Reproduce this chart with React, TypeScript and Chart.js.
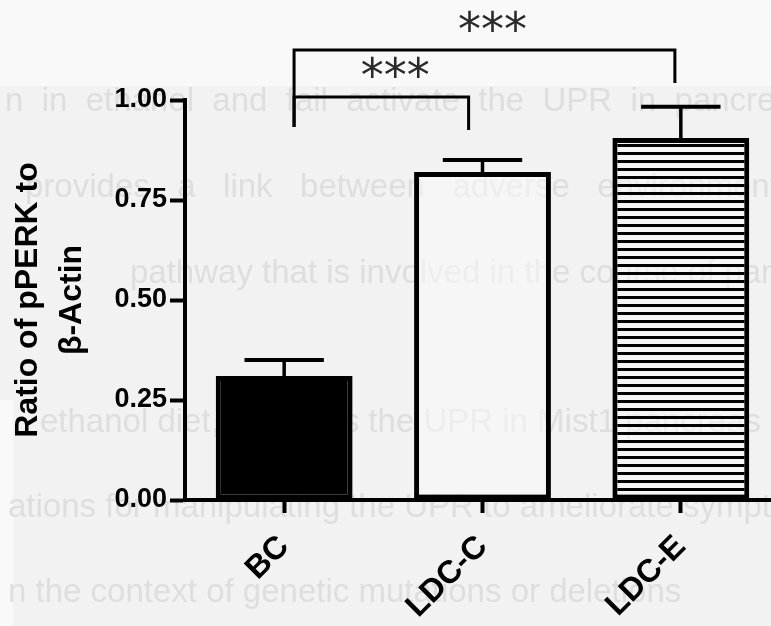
import { useEffect, useRef } from "react";
import { Chart, registerables } from "chart.js";

Chart.register(...registerables);

// ---- data ----
const categories = ["BC", "LDC-C", "LDC-E"];
const means = [0.31, 0.82, 0.905];
const errors = [0.04, 0.03, 0.078];
const yTickValues = [0, 0.25, 0.5, 0.75, 1.0];
const yTitle = ["Ratio of pPERK to", "β-Actin"];

// significance brackets (category index / value units)
const bracketFrom = [0.05, 0.05];
const bracketTo = [0.93, 1.97];
const bracketLevel = [1.0075, 1.125];
const bracketLeftFoot = [0.9325, 0.9325];
const bracketRightFoot = [0.925, 1.0425];
const starLabels = ["***", "***"];
const starX = [0.56, 1.05];
const starY = [1.085, 1.2];

// faint bleed-through text of the scanned page
const pageLines = [
  "n  in  ethanol  and  fail  activate  the  UPR  in  pancreas",
  "provides   a   link   between   adverse   environmental",
  "pathway that is involved in the course of pancreatitis",
  "ethanol diet, activates the UPR in Mist1 pancreas",
  "ations for manipulating the UPR to ameliorate symptoms",
  "n the context of genetic mutations or deletions",
];
const pageLineX = [5, 25, 130, 40, 8, 8];
const pageLineY = [111, 197, 283, 432, 517, 602];

const FONT = "'Liberation Sans', Arial, Helvetica, sans-serif";

export default function App() {
  const ref = useRef<HTMLCanvasElement>(null);

  useEffect(() => {
    document.body.style.margin = "0";
    const canvas = ref.current!;

    const pc = document.createElement("canvas");
    pc.width = 8;
    pc.height = 8;
    const pctx = pc.getContext("2d")!;
    pctx.fillStyle = "rgba(250,250,250,0.55)";
    pctx.fillRect(0, 0, 8, 8);
    pctx.fillStyle = "#000";
    pctx.fillRect(0, 0, 8, 3);
    const stripe = canvas.getContext("2d")!.createPattern(pc, "repeat")!;

    const backgroundPlugin = {
      id: "pageBackground",
      beforeDraw(chart: any) {
        const c = chart.ctx;
        c.save();
        c.fillStyle = "#f2f2f2";
        c.fillRect(0, 0, chart.width, chart.height);
        c.fillStyle = "#f9f9f9";
        c.fillRect(0, 0, chart.width, 86);
        c.fillRect(0, 400, 13, chart.height - 400);
        c.fillStyle = "#dedede";
        c.font = `33px ${FONT}`;
        c.textBaseline = "alphabetic";
        c.textAlign = "left";
        pageLines.forEach((t, i) => c.fillText(t, pageLineX[i], pageLineY[i]));
        c.restore();
      },
    };

    const annotationPlugin = {
      id: "errorsAndBrackets",
      afterDatasetsDraw(chart: any) {
        const c = chart.ctx;
        const xs = chart.scales.x;
        const ys = chart.scales.y;
        const meta = chart.getDatasetMeta(0);
        const catW = xs.width / categories.length;
        const xAt = (idx: number) => xs.getPixelForValue(0) + idx * catW;
        c.save();
        c.strokeStyle = "#000";
        c.lineCap = "butt";
        // error bars
        meta.data.forEach((bar: any, i: number) => {
          const top = ys.getPixelForValue(means[i] + errors[i]);
          const barTop = bar.y;
          const half = bar.width * 0.29;
          c.lineWidth = 3.5;
          c.beginPath();
          c.moveTo(bar.x, barTop);
          c.lineTo(bar.x, top);
          c.stroke();
          c.lineWidth = 4;
          c.beginPath();
          c.moveTo(bar.x - half, top);
          c.lineTo(bar.x + half, top);
          c.stroke();
        });
        // brackets
        c.lineWidth = 3;
        bracketLevel.forEach((lvl, i) => {
          const y = ys.getPixelForValue(lvl);
          const x1 = xAt(bracketFrom[i]);
          const x2 = xAt(bracketTo[i]);
          c.beginPath();
          c.moveTo(x1, ys.getPixelForValue(bracketLeftFoot[i]));
          c.lineTo(x1, y);
          c.lineTo(x2, y);
          c.lineTo(x2, ys.getPixelForValue(bracketRightFoot[i]));
          c.stroke();
        });
        // stars
        c.fillStyle = "#2a2a2a";
        c.font = `46px 'DejaVu Sans', sans-serif`;
        c.textAlign = "center";
        c.textBaseline = "alphabetic";
        starLabels.forEach((s, i) => {
          c.fillText(s, xAt(starX[i]), ys.getPixelForValue(starY[i]) + 25);
        });
        c.restore();
      },
    };

    const chart = new Chart(canvas, {
      type: "bar",
      data: {
        labels: categories,
        datasets: [
          {
            data: means,
            backgroundColor: ["#000000", "rgba(250,250,250,0.55)", stripe as any],
            borderColor: "#000000",
            borderWidth: 5,
            borderSkipped: false,
            barPercentage: 0.69,
            categoryPercentage: 1,
          },
        ],
      },
      options: {
        animation: false,
        responsive: false,
        devicePixelRatio: 1,
        layout: { padding: { top: 100, right: 10, left: 0, bottom: 0 } },
        plugins: {
          legend: { display: false },
          tooltip: { enabled: false },
          title: { display: false },
        },
        scales: {
          x: {
            grid: {
              display: true,
              offset: false,
              drawOnChartArea: false,
              drawTicks: true,
              tickLength: 13,
              tickWidth: 4,
              tickColor: "#000",
            },
            border: { display: true, color: "#000", width: 4, z: 1 },
            ticks: {
              color: "#000",
              font: { family: FONT, size: 32, weight: "bold" },
              minRotation: 45,
              maxRotation: 45,
              padding: 15,
            },
            afterFit: (s: any) => {
              s.height = 126;
            },
          },
          y: {
            min: 0,
            max: 1,
            afterBuildTicks: (s: any) => {
              s.ticks = yTickValues.map((v) => ({ value: v }));
            },
            grid: {
              display: true,
              drawOnChartArea: false,
              drawTicks: true,
              tickLength: 15,
              tickWidth: 4,
              tickColor: "#000",
            },
            border: { display: true, color: "#000", width: 4, z: 1 },
            ticks: {
              color: "#000",
              font: { family: FONT, size: 27, weight: "bold" },
              padding: 3,
              callback: (v: any) => Number(v).toFixed(2),
            },
            title: {
              display: true,
              text: yTitle,
              color: "#000",
              font: { family: FONT, size: 32, weight: "bold", lineHeight: 1.35 },
              padding: { top: 7, bottom: 0 },
            },
            afterFit: (s: any) => {
              s.width = 185;
            },
          },
        },
      },
      plugins: [backgroundPlugin, annotationPlugin],
    });

    return () => chart.destroy();
  }, []);

  return (
    <div style={{ position: "fixed", left: 0, top: 0, width: 771, height: 626, overflow: "hidden" }}>
      <canvas ref={ref} width={790} height={626} style={{ display: "block" }} />
    </div>
  );
}
